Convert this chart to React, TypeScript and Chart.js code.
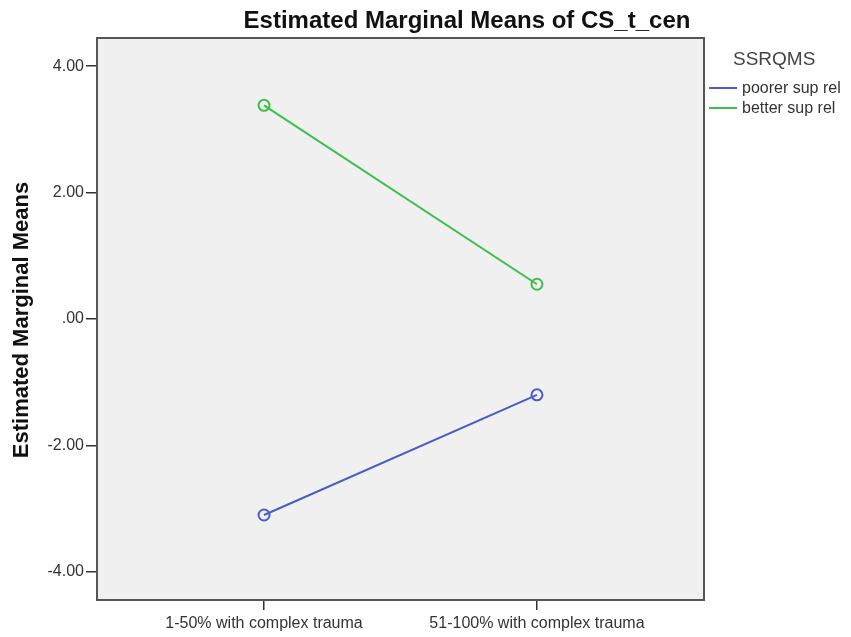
import React, { useEffect, useRef } from "react";
import { Chart, registerables } from "chart.js";

Chart.register(...registerables);

const categories = ["1-50% with complex trauma", "51-100% with complex trauma"];
const categoryPositions = [1, 2];
const poorerValues = [-3.1, -1.2];
const betterValues = [3.38, 0.55];
const seriesLabels = ["poorer sup rel", "better sup rel"];
const yTickValues = [-4, -2, 0, 2, 4];
const titleText = "Estimated Marginal Means of CS_t_cen";
const yTitleText = "Estimated Marginal Means";
const legendTitle = "SSRQMS";

const BLUE = "#4a5cc6";
const GREEN = "#3dbf4c";

function fmt(v: number): string {
  const s = Math.abs(v).toFixed(2).replace(/^0/, "");
  return (v < 0 ? "-" : "") + s;
}

const decor = {
  id: "decor",
  beforeDraw(chart: any) {
    const { ctx, chartArea } = chart;
    ctx.save();
    ctx.fillStyle = "#f0f0f0";
    ctx.fillRect(chartArea.left, chartArea.top, chartArea.right - chartArea.left, chartArea.bottom - chartArea.top);
    ctx.restore();
  },
  afterDraw(chart: any) {
    const { ctx, chartArea } = chart;
    ctx.save();
    // frame
    ctx.strokeStyle = "#555555";
    ctx.lineWidth = 2;
    ctx.strokeRect(chartArea.left, chartArea.top, chartArea.right - chartArea.left, chartArea.bottom - chartArea.top);
    // title
    ctx.fillStyle = "#111111";
    ctx.font = "bold 24px 'Liberation Sans', Arial, sans-serif";
    ctx.textAlign = "center";
    ctx.textBaseline = "alphabetic";
    ctx.fillText(titleText, 467, 28);
    // y title
    ctx.save();
    ctx.translate(28, 320);
    ctx.rotate(-Math.PI / 2);
    ctx.font = "bold 22px 'Liberation Sans', Arial, sans-serif";
    ctx.textAlign = "center";
    ctx.fillText(yTitleText, 0, 0);
    ctx.restore();
    // legend
    ctx.fillStyle = "#444444";
    ctx.font = "19px 'Liberation Sans', Arial, sans-serif";
    ctx.textAlign = "left";
    ctx.textBaseline = "alphabetic";
    ctx.fillText(legendTitle, 733, 65);
    const colors = chart.data.datasets.map((d: any) => d.borderColor);
    const ys = [88, 108];
    ctx.font = "16px 'Liberation Sans', Arial, sans-serif";
    ctx.textBaseline = "middle";
    chart.data.datasets.forEach((d: any, i: number) => {
      ctx.strokeStyle = colors[i];
      ctx.lineWidth = 2;
      ctx.beginPath();
      ctx.moveTo(709, ys[i]);
      ctx.lineTo(737, ys[i]);
      ctx.stroke();
      ctx.fillStyle = "#333333";
      ctx.fillText(d.label, 742, ys[i] + 1);
    });
    ctx.restore();
  },
};

export default function App() {
  const ref = useRef<HTMLCanvasElement>(null);
  useEffect(() => {
    if (!ref.current) return;
    const chart = new Chart(ref.current, {
      type: "line",
      data: {
        datasets: [
          {
            label: seriesLabels[0],
            data: categoryPositions.map((x, i) => ({ x, y: poorerValues[i] })),
            borderColor: BLUE,
            backgroundColor: "rgba(0,0,0,0)",
            borderWidth: 2,
            pointRadius: 5.5,
            pointBorderWidth: 2,
            pointBackgroundColor: "rgba(0,0,0,0)",
            pointBorderColor: BLUE,
          },
          {
            label: seriesLabels[1],
            data: categoryPositions.map((x, i) => ({ x, y: betterValues[i] })),
            borderColor: GREEN,
            backgroundColor: "rgba(0,0,0,0)",
            borderWidth: 2,
            pointRadius: 5.5,
            pointBorderWidth: 2,
            pointBackgroundColor: "rgba(0,0,0,0)",
            pointBorderColor: GREEN,
          },
        ],
      },
      plugins: [decor],
      options: {
        animation: false,
        responsive: false,
        maintainAspectRatio: false,
        layout: { padding: { top: 38, right: 147, left: 0, bottom: 0 } },
        plugins: { legend: { display: false }, tooltip: { enabled: false }, title: { display: false } },
        scales: {
          x: {
            type: "linear",
            min: 0.388,
            max: 2.612,
            afterBuildTicks: (s: any) => {
              s.ticks = categoryPositions.map((v) => ({ value: v }));
            },
            afterFit: (s: any) => {
              s.height = 37;
            },
            grid: { drawOnChartArea: false, drawTicks: true, tickLength: 10, color: "#333333", lineWidth: 1.5 },
            border: { display: false },
            ticks: {
              autoSkip: false,
              maxRotation: 0,
              padding: 4,
              color: "#333333",
              font: { family: "'Liberation Sans', Arial, sans-serif", size: 16 },
              callback: (v: any) => {
                const i = categoryPositions.indexOf(Number(v));
                return i >= 0 ? categories[i] : "";
              },
            },
          },
          y: {
            type: "linear",
            min: -4.445,
            max: 4.445,
            afterBuildTicks: (s: any) => {
              s.ticks = yTickValues.map((v) => ({ value: v }));
            },
            afterFit: (s: any) => {
              s.width = 97;
            },
            grid: { drawOnChartArea: false, drawTicks: true, tickLength: 11, color: "#333333", lineWidth: 1.5 },
            border: { display: false },
            ticks: {
              padding: 2,
              color: "#333333",
              font: { family: "'Liberation Sans', Arial, sans-serif", size: 16 },
              callback: (v: any) => fmt(Number(v)),
            },
          },
        },
      },
    });
    return () => chart.destroy();
  }, []);
  return (
    <div style={{ position: "fixed", left: 0, top: 0, width: 851, height: 637, background: "#ffffff" }}>
      <canvas ref={ref} width={851} height={637} style={{ width: 851, height: 637, display: "block" }} />
    </div>
  );
}
